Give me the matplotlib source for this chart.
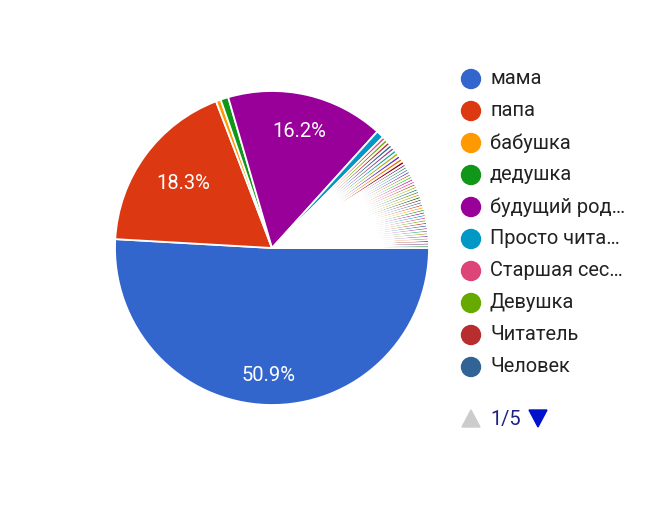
import numpy as np
import matplotlib.pyplot as plt
from matplotlib.patches import Circle, Polygon

plt.rcParams['font.family'] = ['Roboto', 'DejaVu Sans']

# legend page 1 of 5
labels = ['мама', 'папа', 'бабушка', 'дедушка', 'будущий род…',
          'Просто чита…', 'Старшая сес…', 'Девушка', 'Читатель', 'Человек']
shares = [50.9, 18.3, 0.5, 0.8, 16.2, 0.8, 0.35, 0.35, 0.35, 0.35]
# the long tail of single answers (not on legend page 1)
tail = [0.35, 0.35, 0.35, 0.35, 0.35, 0.35, 0.28, 0.28, 0.28, 0.28,
        0.28, 0.28, 0.28, 0.28, 0.28, 0.28, 0.28, 0.28, 0.28, 0.28,
        0.27, 0.27, 0.27, 0.27, 0.27, 0.27, 0.27, 0.27, 0.27, 0.27,
        0.27, 0.27, 0.27, 0.27, 0.26, 0.26, 0.26, 0.26, 0.26]
page, pages = 1, 5

palette = ['#3366cc', '#dc3912', '#ff9900', '#109618', '#990099', '#0099c6',
           '#dd4477', '#66aa00', '#b82e2e', '#316395', '#994499', '#22aa99',
           '#aaaa11', '#6633cc', '#e67300', '#8b0707', '#651067', '#329262',
           '#5574a6', '#3b3eac', '#b77322', '#16d620', '#b91383', '#f4359e',
           '#9c5935', '#a9c413', '#2a778d', '#668d1c', '#bea413', '#0c5922',
           '#743411']

values = shares + tail
colors = [palette[i % len(palette)] for i in range(len(values))]

W, H = 666, 507
fig = plt.figure(figsize=(W / 100, H / 100), dpi=100)
fig.patch.set_facecolor('white')
px = fig.dpi_scale_trans  # 1 unit = 100 px


def P(x, y):
    # pixel position (top-left origin) -> inches
    return x / 100, (H - y) / 100


cx, cy, r = 272, 248, 157
ax = fig.add_axes([(cx - r) / W, (H - cy - r) / H, 2 * r / W, 2 * r / H])
wedges, _ = ax.pie(values, colors=colors, startangle=0, counterclock=False,
                   wedgeprops=dict(edgecolor='white', linewidth=1.3))
ax.set_xlim(-1, 1)
ax.set_ylim(-1, 1)
ax.set_aspect('equal')

# percentage labels on the big slices
total = sum(values)
label_r = {0: 0.81, 1: 0.70, 4: 0.76}
for i, w in enumerate(wedges):
    pct = values[i] / total * 100
    if pct < 5:
        continue
    mid = np.deg2rad((w.theta1 + w.theta2) / 2)
    d = label_r.get(i, 0.76)
    ax.text(d * np.cos(mid), d * np.sin(mid), f'{pct:.1f}%', color='white',
            fontsize=14.5, ha='center', va='center')

# legend
lx, ly0, step = 471, 79, 32
for i, (lab, col) in enumerate(zip(labels, colors)):
    y = ly0 + i * step
    fig.add_artist(Circle(P(lx, y), 0.095, color=col, transform=px))
    fig.text(490 / W, (H - y) / H, lab, fontsize=14.4, color='#222222',
             ha='left', va='center')


# pager
def tri(x, y, up, col):
    s = 9
    if up:
        pts = [(x - s, y + 8), (x + s, y + 8), (x, y - 9)]
    else:
        pts = [(x - s, y - 9), (x + s, y - 9), (x, y + 8)]
    fig.add_artist(Polygon([P(a, b) for a, b in pts], closed=True,
                           color=col, transform=px))


tri(471, 419, True, '#cccccc')
fig.text(490 / W, (H - 419) / H, f'{page}/{pages}', fontsize=14.4,
         color='#1a237e', ha='left', va='center')
tri(538, 419, False, '#0011cc')

fig.savefig('out.png', dpi=100, facecolor='white')
